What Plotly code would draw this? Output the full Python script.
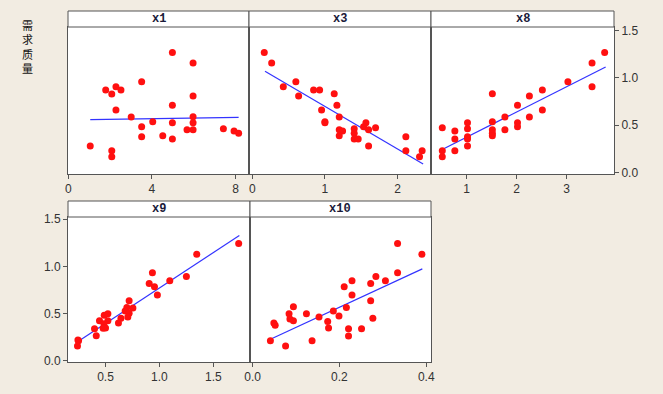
import plotly.graph_objects as go

W, H = 663, 394

# ---------------- data ----------------
x1_vals = [4.98, 5.97, 3.51, 1.79, 2.28, 2.08, 2.52, 5.97, 4.98, 2.28, 3.01, 5.97, 4.04, 4.98,
           5.97, 3.51, 5.68, 5.97, 7.42, 7.93, 8.15, 3.51, 4.52, 4.98, 1.05, 2.08, 2.08]
x1_y = [1.27, 1.158, 0.96, 0.872, 0.907, 0.83, 0.872, 0.808, 0.71, 0.66, 0.586, 0.589, 0.536, 0.525,
        0.525, 0.483, 0.451, 0.451, 0.462, 0.437, 0.413, 0.377, 0.388, 0.353, 0.279, 0.229, 0.165]

x3_vals = [0.165, 0.267, 0.60, 0.427, 0.638, 0.844, 0.927, 1.128, 1.165, 0.954, 1.197, 1.0, 1.0,
           1.564, 1.532, 1.697, 1.601, 1.197, 1.243, 1.403, 1.403, 1.197, 1.403, 1.458, 2.114,
           1.601, 2.114, 2.338, 2.302]
x3_y = [1.27, 1.158, 0.96, 0.907, 0.808, 0.872, 0.872, 0.833, 0.71, 0.66, 0.586, 0.536, 0.525,
        0.525, 0.483, 0.472, 0.451, 0.451, 0.437, 0.462, 0.413, 0.388, 0.353, 0.353, 0.377,
        0.279, 0.229, 0.229, 0.165]

x8_vals = [3.763, 3.511, 3.511, 3.028, 2.517, 2.258, 1.517, 2.02, 2.517, 1.768, 2.258, 1.517, 2.02,
           1.02, 0.516, 1.02, 2.02, 1.517, 1.768, 0.767, 1.517, 1.517, 1.02, 0.767, 1.02, 1.02,
           0.516, 0.767, 0.516]
x8_y = [1.27, 1.158, 0.907, 0.96, 0.872, 0.808, 0.833, 0.71, 0.66, 0.586, 0.586, 0.536, 0.525,
        0.525, 0.472, 0.462, 0.483, 0.451, 0.451, 0.437, 0.413, 0.388, 0.377, 0.353, 0.353, 0.279,
        0.229, 0.229, 0.165]

x9_vals = [1.735, 1.346, 0.935, 0.905, 0.954, 0.981, 1.096, 1.25, 0.719, 0.698, 0.754, 0.682, 0.719,
           0.707, 0.643, 0.62, 0.522, 0.488, 0.522, 0.444, 0.485, 0.5, 0.478, 0.398, 0.414, 0.244,
           0.25, 0.24]
x9_y = [1.243, 1.13, 0.933, 0.821, 0.785, 0.697, 0.848, 0.894, 0.637, 0.567, 0.56, 0.528, 0.504,
        0.465, 0.451, 0.401, 0.5, 0.483, 0.426, 0.426, 0.394, 0.349, 0.345, 0.341, 0.267, 0.222,
        0.215, 0.158]

x10_vals = [0.334, 0.39, 0.334, 0.284, 0.306, 0.229, 0.272, 0.211, 0.229, 0.272, 0.216, 0.094, 0.186,
            0.084, 0.124, 0.199, 0.153, 0.086, 0.094, 0.277, 0.173, 0.049, 0.052, 0.175, 0.221,
            0.251, 0.221, 0.041, 0.137, 0.076]
x10_y = [1.243, 1.13, 0.933, 0.894, 0.848, 0.848, 0.821, 0.785, 0.697, 0.637, 0.567, 0.574, 0.528,
         0.5, 0.5, 0.475, 0.465, 0.444, 0.426, 0.451, 0.419, 0.401, 0.377, 0.349, 0.341, 0.341,
         0.264, 0.215, 0.215, 0.158]

# fitted lines (end points)
fit_x1 = [1.05, 8.15];   fit_y1 = [0.557, 0.582]
fit_x3 = [0.175, 2.352]; fit_y3 = [1.07, 0.088]
fit_x8 = [0.535, 3.783]; fit_y8 = [0.247, 1.115]
fit_x9 = [0.266, 1.741]; fit_y9 = [0.222, 1.328]
fit_x10 = [0.041, 0.391]; fit_y10 = [0.229, 0.975]

panel_titles = ["x1", "x3", "x8", "x9", "x10"]
y_title = "需求质量"
y_ticks = [0.0, 0.5, 1.0, 1.5]
x_ticks = [[0, 4, 8], [0, 1, 2], [1, 2, 3], [0.5, 1.0, 1.5], [0.0, 0.2, 0.4]]

# ---------------- layout geometry (pixels) ----------------
panels = [
    # x0, x1, header_top, plot_top, plot_bottom, xrange, yrange
    (68, 249, 11, 27, 174, [-0.014, 8.646], [-0.018, 1.539]),
    (249, 431, 11, 27, 174, [-0.045, 2.46], [-0.018, 1.539]),
    (431, 614, 11, 27, 174, [0.29, 3.95], [-0.018, 1.539]),
    (68, 250, 201, 217, 362, [0.152, 1.84], [-0.011, 1.524]),
    (250, 431, 201, 217, 362, [-0.006, 0.411], [-0.011, 1.524]),
]
data_x = [x1_vals, x3_vals, x8_vals, x9_vals, x10_vals]
data_y = [x1_y, x3_y, x8_y, x9_y, x10_y]
fits_x = [fit_x1, fit_x3, fit_x8, fit_x9, fit_x10]
fits_y = [fit_y1, fit_y3, fit_y8, fit_y9, fit_y10]
xfmt = ["d", "d", "d", ".1f", ".1f"]

def fx(px):
    return px / W

def fy(py):
    return 1 - py / H

fig = go.Figure()
layout = dict(
    width=W, height=H, autosize=False,
    margin=dict(l=0, r=0, t=0, b=0, pad=0, autoexpand=False),
    paper_bgcolor="#f2ece2",
    plot_bgcolor="white",
    showlegend=False,
    font=dict(family="Liberation Sans", size=12, color="#333333"),
)
shapes = []
annotations = []
edge = "#555555"

for i, (x0, x1, ht, pt, pb, xr, yr) in enumerate(panels):
    n = "" if i == 0 else str(i + 1)
    fig.add_trace(go.Scatter(
        x=fits_x[i], y=fits_y[i], mode="lines",
        line=dict(color="#3333ff", width=1.2),
        xaxis="x" + n, yaxis="y" + n, hoverinfo="skip"))
    fig.add_trace(go.Scatter(
        x=data_x[i], y=data_y[i], mode="markers",
        marker=dict(color="#ff1010", size=7, line=dict(width=0)),
        xaxis="x" + n, yaxis="y" + n))

    layout["xaxis" + n] = dict(
        domain=[fx(x0), fx(x1)], anchor="y" + n, range=xr,
        tickvals=x_ticks[i], tickformat=xfmt[i],
        ticks="outside", ticklen=4, tickcolor=edge,
        showgrid=False, zeroline=False, automargin=False,
        showline=True, mirror=True, linecolor=edge, linewidth=1,
        fixedrange=True,
    )
    ydict = dict(
        domain=[fy(pb), fy(pt)], anchor="x" + n, range=yr,
        showgrid=False, zeroline=False, automargin=False,
        showline=True, mirror=True, linecolor=edge, linewidth=1,
        fixedrange=True,
    )
    if i == 2:
        ydict.update(side="right", tickvals=y_ticks, tickformat=".1f",
                     ticks="outside", ticklen=4, tickcolor=edge)
    elif i == 3:
        ydict.update(side="left", tickvals=y_ticks, tickformat=".1f",
                     ticks="outside", ticklen=4, tickcolor=edge)
    else:
        ydict.update(showticklabels=False, ticks="")
    layout["yaxis" + n] = ydict

    # header strip
    shapes.append(dict(type="rect", xref="paper", yref="paper",
                       x0=fx(x0), x1=fx(x1), y0=fy(pt), y1=fy(ht),
                       fillcolor="white", line=dict(color=edge, width=1)))
    annotations.append(dict(
        x=fx((x0 + x1) / 2), y=fy((ht + pt) / 2), xref="paper", yref="paper",
        text="<b>" + panel_titles[i] + "</b>", showarrow=False,
        font=dict(family="Liberation Mono", size=12, color="#1a1a3a"),
        xanchor="center", yanchor="middle"))

annotations.append(dict(
    x=fx(27), y=fy(47.5), xref="paper", yref="paper",
    text="<br>".join(list(y_title)), showarrow=False,
    font=dict(family="DejaVu Sans, Noto Sans CJK SC", size=11, color="#111111"),
    xanchor="center", yanchor="middle"))

layout["shapes"] = shapes
layout["annotations"] = annotations
fig.update_layout(**layout)
fig.write_html(
    "out.html",
    config={"displayModeBar": False, "staticPlot": True},
    post_script="document.body.style.margin='0';document.body.style.background='#f2ece2';",
)
